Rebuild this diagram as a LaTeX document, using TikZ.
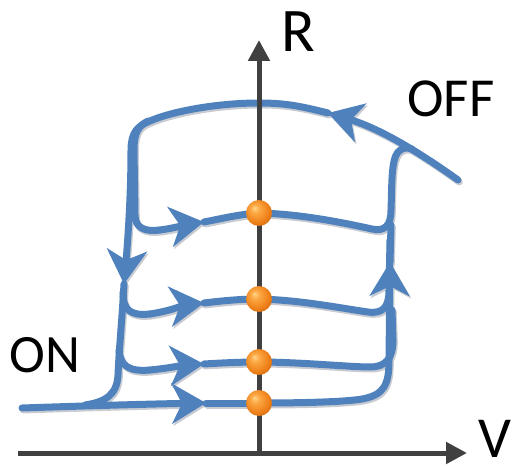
\documentclass[tikz,border=0pt]{standalone}
\usepackage{fontspec}
\setmainfont{Carlito}
\usetikzlibrary{arrows.meta}
\definecolor{loopblue}{RGB}{79,129,189}
\definecolor{loopshadow}{RGB}{200,204,210}
\definecolor{axisgray}{RGB}{64,64,64}
\pgfdeclareradialshading{orangeball}{\pgfpoint{-9bp}{10bp}}{%
  color(0bp)=(rgb,255:red,255;green,214;blue,140);
  color(8bp)=(rgb,255:red,252;green,170;blue,70);
  color(22bp)=(rgb,255:red,240;green,132;blue,28);
  color(36bp)=(rgb,255:red,205;green,98;blue,12);
  color(50bp)=(rgb,255:red,190;green,88;blue,10)}

% all branches of the switching loop, drawn with the current curve style
\newcommand\loopbranches{%
  % OFF branch: across the top and down the left side
  \draw[curve,headtip] (offend) .. controls (430,160) and (385,130) .. (toptip);
  \draw[curve,headtip] (toptip) .. controls (300,106) and (285,103) .. (259,103)
    .. controls (215,103) and (170,112) .. (150,121)
    .. controls (137,126) and (131,133) .. (131,150)
    .. controls (131,200) and (127,250) .. (lefttip);
  \draw[curve] (lefttip) .. controls (122,320) and (119,350) .. (118,375)
    .. controls (117,395) and (105,402) .. (85,405);
  % set branches into the states
  \draw[curve] (148,121) .. controls (138,126) and (134,133) .. (134,150) -- (135,215)
    .. controls (135,228) and (145,232) .. (160,230);
  \draw[curve,headtip] (160,230) .. controls (175,228) and (190,224) .. (a1);
  \draw[curve] (a1) .. controls (220,219) and (240,214) .. (s1);
  \draw[curve] (123,292) .. controls (123,310) and (130,316) .. (150,314);
  \draw[curve,headtip] (150,314) .. controls (170,311) and (185,305) .. (a2);
  \draw[curve] (a2) .. controls (220,301) and (240,299) .. (s2);
  \draw[curve] (119,350) .. controls (120,365) and (128,372) .. (150,370);
  \draw[curve,headtip] (150,370) .. controls (170,368) and (185,365) .. (a3);
  \draw[curve] (a3) .. controls (220,363) and (240,362) .. (s3);
  \draw[curve,headtip] (onend) .. controls (80,406) and (150,404) .. (a4);
  \draw[curve] (a4) -- (s4);
  % reset branches up to the OFF curve
  \draw[curve] (s1) .. controls (300,214) and (340,222) .. (372,229)
    .. controls (385,232) and (391,225) .. (391,210)
    .. controls (392,185) and (391,160) .. (398,152)
    .. controls (402,148) and (406,147) .. (join);
  \draw[curve] (s2) .. controls (300,300) and (340,308) .. (368,312)
    .. controls (383,314) and (389,307) .. (389,290) -- (390,240);
  \draw[curve] (s3) .. controls (300,362) and (350,367) .. (370,367)
    .. controls (386,367) and (393,358) .. (393,340) -- (392,310);
  \draw[curve,headtip] (s4) .. controls (300,403) and (345,402) .. (362,399)
    .. controls (384,395) and (389,385) .. (389,360) -- (righttip);
  \draw[curve] (righttip) -- (391,225);
}

\begin{document}
\begin{tikzpicture}[x=1pt,y=-1pt,
  curve/.style={line width=7pt,draw=loopblue,line cap=round,line join=round},
  headtip/.style={-{Stealth[length=34pt,width=40pt,inset=10pt]}},
  axisline/.style={line width=5pt,draw=axisgray,-{Triangle[length=21pt,width=21pt]}},
  state/.style={circle,inner sep=0pt,minimum size=26pt,shading=orangeball},
  lab/.style={anchor=base,inner sep=0pt,text=black}]
\useasboundingbox (0,0) rectangle (516,465);

% named points along the switching loop
\coordinate (offend) at (458,180);
\coordinate (toptip) at (328,113);
\coordinate (lefttip) at (124,284);
\coordinate (onend) at (22,408);
\coordinate (righttip) at (390,262);
\coordinate (join) at (412,149);
\coordinate (a1) at (204,222);
\coordinate (a2) at (204,303);
\coordinate (a3) at (204,364);
\coordinate (a4) at (206,403);

% resistance states on the R axis
\coordinate (s1) at (259,213);
\coordinate (s2) at (259,299);
\coordinate (s3) at (259,362);
\coordinate (s4) at (259,403);

% soft drop shadow, then the loop itself
\begin{scope}[transform canvas={shift={(1.3pt,-2pt)}},
    curve/.append style={draw=loopshadow}]
  \loopbranches
\end{scope}
\loopbranches

% axes
\coordinate (origin) at (259,456);
\coordinate (rtip) at (259,40);
\coordinate (vstart) at (18,453);
\coordinate (vtip) at (467,453);
\draw[axisline] (origin) -- (rtip);
\draw[axisline] (vstart) -- (vtip);

% states
\node[state] (b1) at (s1) {};
\node[state] (b2) at (s2) {};
\node[state] (b3) at (s3) {};
\node[state] (b4) at (s4) {};

% labels
\node[lab,font=\fontsize{62}{62}\selectfont] (rlab) at (298,52) {R};
\node[lab,font=\fontsize{58}{58}\selectfont] (vlab) at (495,457) {V};
\node[lab,font=\fontsize{55}{55}\selectfont] (offlab) at (451,117) {OFF};
\node[lab,font=\fontsize{54}{54}\selectfont] (onlab) at (45,372) {ON};
\end{tikzpicture}
\end{document}
